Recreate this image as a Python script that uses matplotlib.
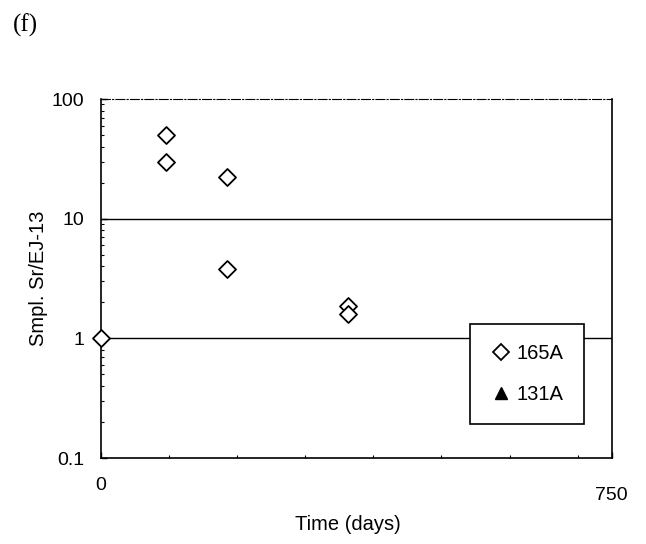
import matplotlib
matplotlib.use("Agg")
import matplotlib.pyplot as plt
import matplotlib.transforms as mtransforms
from matplotlib.lines import Line2D
from matplotlib.ticker import FixedLocator, NullFormatter, LogLocator

# Sr ratio vs time, sample 165A (131A has no points here)
days_165a = [0, 95, 95, 185, 185, 363, 363]
sr_165a = [1.0, 50, 30, 22.5, 3.8, 1.85, 1.6]

x_ticks = [0, 750]
y_ticks = [0.1, 1, 10, 100]
y_tick_labels = ['0.1', '1', '10', '100']

plt.rcParams['font.family'] = ['Liberation Sans', 'DejaVu Sans']

fig = plt.figure(figsize=(6.46, 5.44), dpi=100)
ax = fig.add_axes([0.156, 0.158, 0.791, 0.660])

ax.set_yscale('log')
ax.set_xlim(0, 750)
ax.set_ylim(0.1, 100)

# horizontal reference lines at each decade
ax.axhline(10, color='black', lw=1.0, zorder=1)
ax.axhline(1, color='black', lw=1.0, zorder=1)

ax.scatter(days_165a, sr_165a, marker='D', s=75, facecolor='white',
           edgecolor='black', linewidths=1.3, zorder=3, clip_on=False)

ax.spines['top'].set_linestyle((0, (8, 2, 1, 2)))
ax.spines['top'].set_linewidth(0.8)
for s in ['left', 'right', 'bottom']:
    ax.spines[s].set_linewidth(1.2)

ax.set_xticks(x_ticks)
ax.set_xticklabels(['0', '750'])
ax.xaxis.set_minor_locator(FixedLocator([100, 200, 300, 400, 500, 600, 700]))
ax.set_yticks(y_ticks)
ax.set_yticklabels(y_tick_labels)
ax.yaxis.set_minor_locator(LogLocator(base=10, subs=(2, 3, 4, 5, 6, 7, 8, 9)))
ax.yaxis.set_minor_formatter(NullFormatter())

ax.tick_params(axis='both', which='major', direction='in', length=4,
               labelsize=14, width=1)
ax.tick_params(axis='both', which='minor', direction='in', length=2, width=0.8)
ax.tick_params(axis='x', pad=14)
ax.tick_params(axis='y', pad=12)

# the 750 label sits a little lower than the 0 label
lab750 = ax.get_xticklabels()[1]
lab750.set_transform(lab750.get_transform() +
                     mtransforms.ScaledTranslation(0, -7 / 72, fig.dpi_scale_trans))

ax.set_xlabel('Time (days)', fontsize=14.5)
ax.xaxis.set_label_coords(0.483, -0.158)
ax.set_ylabel('Smpl. Sr/EJ-13', fontsize=14.5)
ax.yaxis.set_label_coords(-0.104, 0.5)

handles = [
    Line2D([], [], marker='D', ls='none', markersize=8, markerfacecolor='white',
           markeredgecolor='black', markeredgewidth=1.3, label='165A'),
    Line2D([], [], marker='^', ls='none', markersize=8, color='black',
           label='131A'),
]
leg = ax.legend(handles=handles, loc='lower right', bbox_to_anchor=(0.945, 0.095),
                borderaxespad=0, fontsize=14.5, frameon=True, fancybox=False,
                handletextpad=0.3, borderpad=1.0, labelspacing=1.1,
                handlelength=1.0)
leg.get_frame().set_edgecolor('black')
leg.get_frame().set_linewidth(1.2)
leg.get_frame().set_alpha(1)

fig.text(0.02, 0.975, '(f)', fontsize=18, family='Liberation Serif', va='top')

fig.savefig('out.png', dpi=100)
